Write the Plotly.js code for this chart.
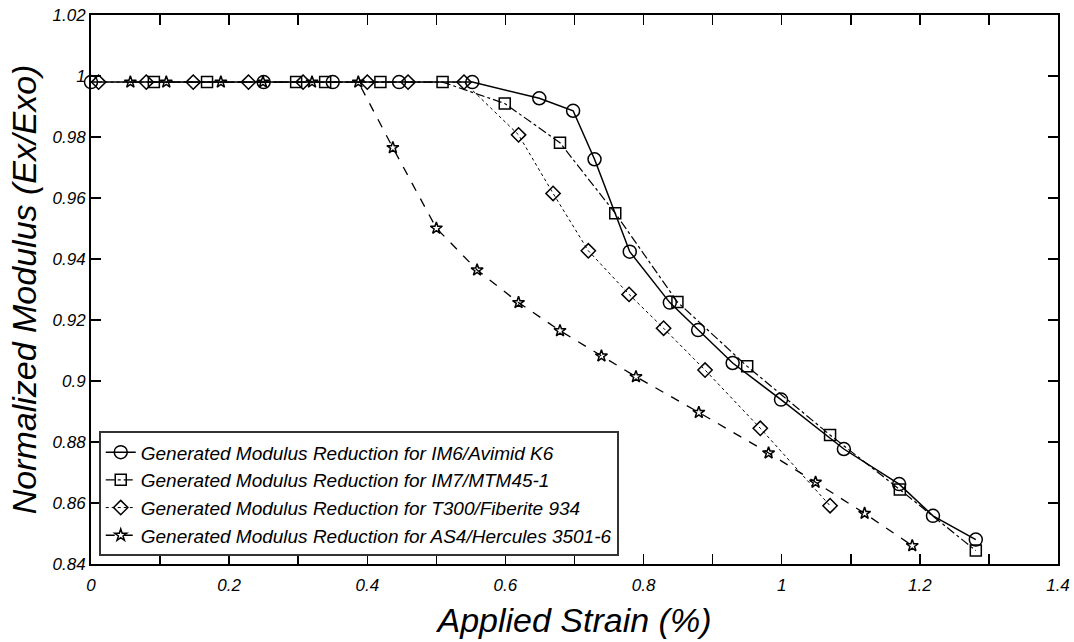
<!DOCTYPE html>
<html>
<head>
<meta charset="utf-8">
<script src="https://cdn.plot.ly/plotly-3.0.1.min.js"></script>
<style>html,body{margin:0;padding:0;background:#fff;}#chart{width:1074px;height:642px;}</style>
</head>
<body>
<div id="chart"></div>
<script>
// Series names
const seriesNames = [
  "Generated Modulus Reduction for IM6/Avimid K6",
  "Generated Modulus Reduction for IM7/MTM45-1",
  "Generated Modulus Reduction for T300/Fiberite 934",
  "Generated Modulus Reduction for AS4/Hercules 3501-6"
];

// IM6/Avimid K6 (circles)
const im6Strain  = [0, 0.25, 0.35, 0.446, 0.552, 0.649, 0.698, 0.729, 0.780, 0.838, 0.879, 0.929, 0.999, 1.090, 1.170, 1.219, 1.281];
const im6Modulus = [0.998, 0.998, 0.998, 0.998, 0.998, 0.9927, 0.9886, 0.9727, 0.9424, 0.9257, 0.9167, 0.9059, 0.8939, 0.8777, 0.8662, 0.8558, 0.848];

// IM7/MTM45-1 (squares)
const im7Strain  = [0.091, 0.168, 0.297, 0.339, 0.419, 0.509, 0.599, 0.679, 0.759, 0.849, 0.950, 1.070, 1.171, 1.281];
const im7Modulus = [0.998, 0.998, 0.998, 0.998, 0.998, 0.998, 0.991, 0.9781, 0.955, 0.9259, 0.9048, 0.8823, 0.8644, 0.8444];

// T300/Fiberite 934 (diamonds)
const t300Strain  = [0.011, 0.080, 0.148, 0.228, 0.307, 0.400, 0.459, 0.540, 0.619, 0.669, 0.720, 0.779, 0.829, 0.889, 0.969, 1.070];
const t300Modulus = [0.998, 0.998, 0.998, 0.998, 0.998, 0.998, 0.998, 0.998, 0.9807, 0.9615, 0.9427, 0.9284, 0.9173, 0.9036, 0.8845, 0.8591];

// AS4/Hercules 3501-6 (stars)
const as4Strain  = [0.057, 0.109, 0.188, 0.249, 0.320, 0.387, 0.437, 0.500, 0.559, 0.619, 0.679, 0.739, 0.789, 0.880, 0.981, 1.049, 1.120, 1.189];
const as4Modulus = [0.998, 0.998, 0.998, 0.998, 0.998, 0.998, 0.9765, 0.9501, 0.9364, 0.9257, 0.9165, 0.9082, 0.9014, 0.8897, 0.8764, 0.8668, 0.8566, 0.846];

const FONT = "Liberation Sans, Arial, Helvetica, sans-serif";

function mk(name, x, y, symbol, size, dash, lw) {
  return {
    type: "scatter", mode: "lines+markers", name: name, x: x, y: y,
    line: {color: "#000", width: lw, dash: dash},
    marker: {symbol: symbol, size: size, color: "#000", line: {color: "#000", width: 1.5}},
    cliponaxis: false
  };
}

const data = [
  mk(seriesNames[3], as4Strain, as4Modulus, "star-open", 9, "dash", 1.3),
  mk(seriesNames[2], t300Strain, t300Modulus, "diamond-open", 11, "dot", 1),
  mk(seriesNames[1], im7Strain, im7Modulus, "square-open", 11, "dashdot", 1.2),
  mk(seriesNames[0], im6Strain, im6Modulus, "circle-open", 13, "solid", 1.5)
];

const layout = {
  width: 1074, height: 642,
  margin: {l: 91, r: 16, t: 15, b: 78},
  paper_bgcolor: "#fff", plot_bgcolor: "#fff",
  showlegend: true,
  legend: {
    x: 0.008, y: 0.014, xanchor: "left", yanchor: "bottom",
    bgcolor: "#fff", bordercolor: "#333", borderwidth: 2,
    traceorder: "reversed",
    font: {family: FONT, size: 19, style: "italic", color: "#000"},
    itemwidth: 30, tracegroupgap: 0
  },
  xaxis: {
    range: [0, 1.4], dtick: 0.2, tick0: 0,
    showgrid: false, zeroline: false,
    showline: true, linecolor: "#000", linewidth: 2, mirror: "ticks",
    ticks: "inside", ticklen: 10, tickwidth: 1.5, tickcolor: "#000",
    ticklabelstandoff: 5,
    minor: {dtick: 0.1, ticks: "inside", ticklen: 10, tickwidth: 1.5, tickcolor: "#000", showgrid: false},
    tickfont: {family: FONT, size: 17, style: "italic", color: "#000"},
    title: {text: "Applied Strain (%)", font: {family: FONT, size: 34, style: "italic", color: "#000"}, standoff: 14}
  },
  yaxis: {
    range: [0.84, 1.02], dtick: 0.02, tick0: 0.84,
    showgrid: false, zeroline: false,
    showline: true, linecolor: "#000", linewidth: 2, mirror: "ticks",
    ticks: "inside", ticklen: 10, tickwidth: 1.5, tickcolor: "#000",
    tickfont: {family: FONT, size: 17, style: "italic", color: "#000"},
    title: {text: "Normalized Modulus (Ex/Exo)", font: {family: FONT, size: 34, style: "italic", color: "#000"}, standoff: 6}
  }
};

Plotly.newPlot("chart", data, layout, {displayModeBar: false, staticPlot: true});
</script>
</body>
</html>
